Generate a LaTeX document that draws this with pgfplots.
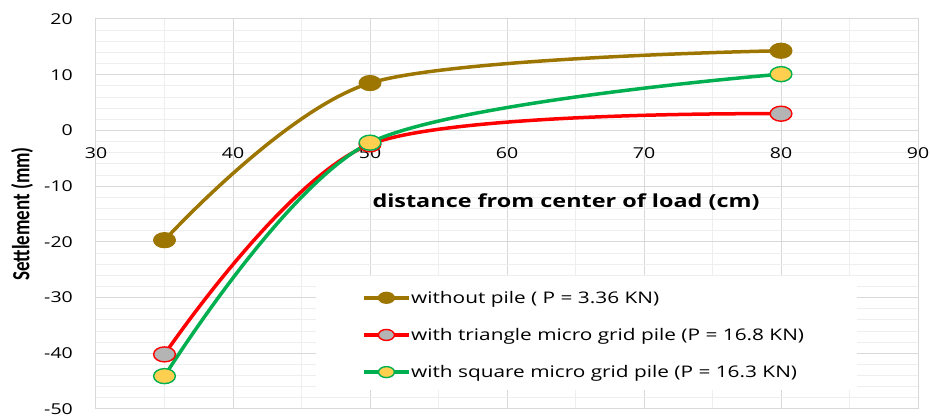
\documentclass[border=0pt]{standalone}
\usepackage{fontspec}
\setmainfont{Open Sans}
\newfontfamily\carlito{Carlito}
\usepackage{graphicx}
\usepackage{pgfplots}
\pgfplotsset{compat=1.18}

\definecolor{brownline}{RGB}{156,118,0}
\definecolor{redline}{RGB}{255,0,0}
\definecolor{greenline}{RGB}{0,176,80}
\definecolor{markgray}{RGB}{180,180,180}
\definecolor{markyellow}{RGB}{255,208,80}
\definecolor{majgrid}{RGB}{217,217,217}
\definecolor{mingrid}{RGB}{238,238,238}

% the source picture is stretched sideways, so is the text
\newcommand\sx[1]{\scalebox{1.3}[1]{#1}}

\begin{document}
\begin{tikzpicture}
\begin{axis}[
    scale only axis,
    width=822pt, height=390pt,
    xmin=30, xmax=90, ymin=-50, ymax=20,
    xtick={30,40,...,90}, ytick={-50,-40,...,20},
    minor x tick num=1, minor y tick num=4,
    grid=both,
    major grid style={draw=majgrid, line width=1pt},
    minor grid style={draw=mingrid, line width=0.9pt},
    axis line style={draw=majgrid, line width=1pt},
    major tick length=0pt, minor tick length=0pt,
    /pgf/number format/assume math mode=true,
    xticklabel={\sx{\fontsize{15}{18}\selectfont\pgfmathprintnumber{\tick}}},
    yticklabel={\sx{\fontsize{15}{18}\selectfont\pgfmathprintnumber{\tick}}},
    xticklabel style={anchor=center, yshift=255.6pt},
    yticklabel style={anchor=east, inner sep=0pt, xshift=-23pt},
    ylabel={\rotatebox{90}{\scalebox{1}[1.3]{\carlito\bfseries\fontsize{19}{22}\selectfont Settlement (mm)}}},
    ylabel style={rotate=-90, anchor=center, at={(axis description cs:-0.090,0.5)}},
    xlabel={\sx{\bfseries\fontsize{18}{21}\selectfont distance from center of load (cm)}},
    xlabel style={anchor=center, at={(axis description cs:0.5718,0.53)}},
    legend style={draw=none, fill=none, at={(axis cs:49.45,-28.6)}, anchor=north west,
        row sep=21.5pt, inner sep=0pt,
        nodes={inner sep=1pt, anchor=west, font=\fontsize{16}{19}\selectfont}},
    legend cell align=left,
    legend image code/.code={
        \draw[#1, mark size=5.5pt, mark repeat=2, mark phase=2]
            plot coordinates {(0pt,0pt) (22pt,0pt) (44pt,0pt)};
    },
]
% white box behind the legend
\fill[white] (axis cs:46.06,-46.6) rectangle (axis cs:85.55,-26.1);

\addplot[smooth, color=brownline, line width=3.5pt, mark=*,
    mark size=7.5pt, mark options={xscale=1.45, fill=brownline, draw=brownline, line width=1.2pt}]
    coordinates {(35,-19.7) (50,8.5) (80,14.3)};
\addplot[smooth, color=redline, line width=3.5pt, mark=*,
    mark size=7.5pt, mark options={xscale=1.45, fill=markgray, draw=redline, line width=1.4pt}]
    coordinates {(35,-40.2) (50,-2.5) (80,3.0)};
\addplot[smooth, color=greenline, line width=3.5pt, mark=*,
    mark size=7.5pt, mark options={xscale=1.45, fill=markyellow, draw=greenline, line width=1.4pt}]
    coordinates {(35,-44.1) (50,-2.2) (80,10.1)};

\legend{\sx{without pile ( P = 3.36 KN)},
        \sx{with triangle micro grid pile (P = 16.8 KN)},
        \sx{with square micro grid pile (P = 16.3 KN)}}
\end{axis}
\pgfresetboundingbox
\path (current axis.south west) +(-96pt,-8pt) (current axis.north east) +(12pt,19pt);
\end{tikzpicture}
\end{document}
